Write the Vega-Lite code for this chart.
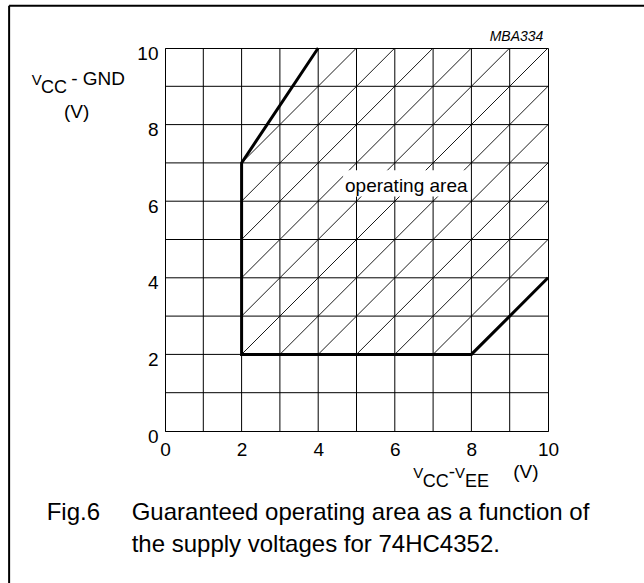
{
  "$schema": "https://vega.github.io/schema/vega-lite/v6.json",
  "width": 383,
  "height": 383,
  "autosize": {"type": "none"},
  "padding": {"left": 165, "top": 48, "right": 96, "bottom": 152},
  "background": "white",
  "config": {"view": {"stroke": "black", "strokeWidth": 1}, "font": "Liberation Sans"},
  "datasets": {
    "grid": [
      {"v": 1}, {"v": 2}, {"v": 3}, {"v": 4}, {"v": 5},
      {"v": 6}, {"v": 7}, {"v": 8}, {"v": 9}
    ],
    "hatch": [
      {"x1": 2, "y1": 7, "x2": 5, "y2": 10},
      {"x1": 2, "y1": 6, "x2": 6, "y2": 10},
      {"x1": 2, "y1": 5, "x2": 7, "y2": 10},
      {"x1": 2, "y1": 4, "x2": 8, "y2": 10},
      {"x1": 2, "y1": 3, "x2": 9, "y2": 10},
      {"x1": 2, "y1": 2, "x2": 10, "y2": 10},
      {"x1": 3, "y1": 2, "x2": 10, "y2": 9},
      {"x1": 4, "y1": 2, "x2": 10, "y2": 8},
      {"x1": 5, "y1": 2, "x2": 10, "y2": 7},
      {"x1": 6, "y1": 2, "x2": 10, "y2": 6},
      {"x1": 7, "y1": 2, "x2": 10, "y2": 5}
    ],
    "boundary": [
      {"i": 0, "x": 4, "y": 10},
      {"i": 1, "x": 2, "y": 7},
      {"i": 2, "x": 2, "y": 2},
      {"i": 3, "x": 8, "y": 2},
      {"i": 4, "x": 10, "y": 4}
    ],
    "frame": [
      {"x1": -4.07, "y1": 11.1, "x2": 12.6, "y2": 11.1},
      {"x1": -4.07, "y1": 11.1, "x2": -4.07, "y2": -4.0}
    ],
    "vletters": [
      {"x": -3.48, "y": 9.03, "t": "V"},
      {"x": 6.48, "y": -1.23, "t": "V"},
      {"x": 7.57, "y": -1.23, "t": "V"}
    ],
    "subs": [
      {"x": -3.24, "y": 8.83, "t": "CC"},
      {"x": 6.73, "y": -1.46, "t": "CC"},
      {"x": 7.83, "y": -1.46, "t": "EE"}
    ],
    "titles": [
      {"x": -2.45, "y": 9.03, "t": "- GND"},
      {"x": -2.64, "y": 8.17, "t": "(V)"},
      {"x": 7.41, "y": -1.23, "t": "-"},
      {"x": 9.09, "y": -1.23, "t": "(V)"}
    ],
    "caption": [
      {"x": -3.09, "y": -2.32, "t": "Fig.6"},
      {"x": -0.87, "y": -2.32, "t": "Guaranteed operating area as a function of"},
      {"x": -0.87, "y": -3.15, "t": "the supply voltages for 74HC4352."}
    ]
  },
  "layer": [
    {
      "data": {"name": "hatch"},
      "mark": {"type": "rule", "stroke": "black", "strokeWidth": 0.9},
      "encoding": {
        "x": {
          "field": "x1", "type": "quantitative",
          "scale": {"domain": [0, 10], "nice": false, "zero": false},
          "axis": {
            "values": [0, 2, 4, 6, 8, 10],
            "grid": false,
            "ticks": false, "tickSize": 0,
            "domainColor": "black", "domainWidth": 1,
            "labelFontSize": 19, "labelColor": "black", "labelFont": "Liberation Sans",
            "labelPadding": 9, "labelFlush": false, "labelOverlap": false,
            "title": null
          }
        },
        "y": {
          "field": "y1", "type": "quantitative",
          "scale": {"domain": [0, 10], "nice": false, "zero": false},
          "axis": {
            "values": [0, 2, 4, 6, 8, 10],
            "grid": false,
            "ticks": false, "tickSize": 0,
            "domainColor": "black", "domainWidth": 1,
            "labelFontSize": 19, "labelColor": "black", "labelFont": "Liberation Sans",
            "labelPadding": 7, "labelFlush": false, "labelOverlap": false,
            "labelBaseline": "alphabetic", "labelOffset": 11,
            "title": null
          }
        },
        "x2": {"field": "x2"},
        "y2": {"field": "y2"}
      }
    },
    {
      "data": {"name": "grid"},
      "mark": {"type": "rule", "stroke": "black", "strokeWidth": 1},
      "encoding": {
        "x": {"field": "v", "type": "quantitative"}
      }
    },
    {
      "data": {"name": "grid"},
      "mark": {"type": "rule", "stroke": "black", "strokeWidth": 1},
      "encoding": {
        "y": {"field": "v", "type": "quantitative"}
      }
    },
    {
      "data": {"name": "boundary"},
      "mark": {"type": "line", "stroke": "black", "strokeWidth": 3, "strokeJoin": "miter"},
      "encoding": {
        "x": {"field": "x", "type": "quantitative"},
        "y": {"field": "y", "type": "quantitative"},
        "order": {"field": "i", "type": "quantitative"}
      }
    },
    {
      "data": {"values": [{"x": 4.65, "x2": 7.97, "y": 6.12, "y2": 6.81}]},
      "mark": {"type": "rect", "fill": "white", "stroke": null},
      "encoding": {
        "x": {"field": "x", "type": "quantitative"},
        "x2": {"field": "x2"},
        "y": {"field": "y", "type": "quantitative"},
        "y2": {"field": "y2"}
      }
    },
    {
      "data": {"values": [{"x": 4.7, "y": 6.25, "t": "operating area"}]},
      "mark": {"type": "text", "align": "left", "baseline": "alphabetic", "fontSize": 19, "font": "Liberation Sans", "color": "black"},
      "encoding": {
        "x": {"field": "x", "type": "quantitative"},
        "y": {"field": "y", "type": "quantitative"},
        "text": {"field": "t"}
      }
    },
    {
      "data": {"values": [{"x": 9.88, "y": 10.19, "t": "MBA334"}]},
      "mark": {"type": "text", "align": "right", "baseline": "alphabetic", "fontSize": 14, "fontStyle": "italic", "font": "Liberation Sans", "color": "black"},
      "encoding": {
        "x": {"field": "x", "type": "quantitative"},
        "y": {"field": "y", "type": "quantitative"},
        "text": {"field": "t"}
      }
    },
    {
      "data": {"name": "frame"},
      "mark": {"type": "rule", "stroke": "black", "strokeWidth": 2, "clip": false},
      "encoding": {
        "x": {"field": "x1", "type": "quantitative"},
        "y": {"field": "y1", "type": "quantitative"},
        "x2": {"field": "x2"},
        "y2": {"field": "y2"}
      }
    },
    {
      "data": {"name": "vletters"},
      "mark": {"type": "text", "align": "left", "baseline": "alphabetic", "fontSize": 15, "font": "Liberation Sans", "color": "black"},
      "encoding": {
        "x": {"field": "x", "type": "quantitative"},
        "y": {"field": "y", "type": "quantitative"},
        "text": {"field": "t"}
      }
    },
    {
      "data": {"name": "subs"},
      "mark": {"type": "text", "align": "left", "baseline": "alphabetic", "fontSize": 18, "font": "Liberation Sans", "color": "black"},
      "encoding": {
        "x": {"field": "x", "type": "quantitative"},
        "y": {"field": "y", "type": "quantitative"},
        "text": {"field": "t"}
      }
    },
    {
      "data": {"name": "titles"},
      "mark": {"type": "text", "align": "left", "baseline": "alphabetic", "fontSize": 19, "font": "Liberation Sans", "color": "black"},
      "encoding": {
        "x": {"field": "x", "type": "quantitative"},
        "y": {"field": "y", "type": "quantitative"},
        "text": {"field": "t"}
      }
    },
    {
      "data": {"name": "caption"},
      "mark": {"type": "text", "align": "left", "baseline": "alphabetic", "fontSize": 24, "font": "Liberation Sans", "color": "black"},
      "encoding": {
        "x": {"field": "x", "type": "quantitative"},
        "y": {"field": "y", "type": "quantitative"},
        "text": {"field": "t"}
      }
    }
  ]
}
